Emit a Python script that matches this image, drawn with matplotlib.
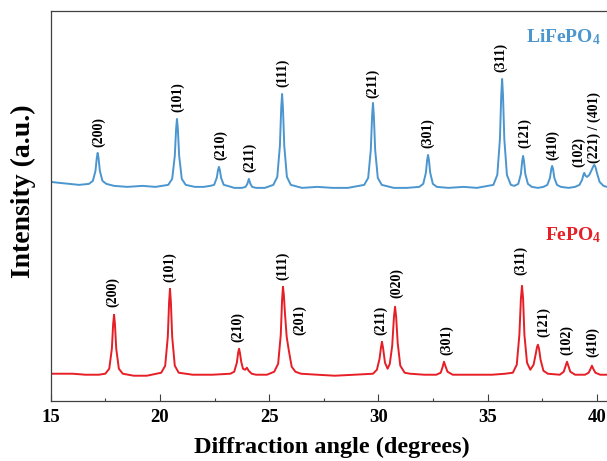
import matplotlib
matplotlib.use('Agg')
import matplotlib.pyplot as plt
from matplotlib.ticker import MultipleLocator

plt.rcParams['font.family'] = ['Liberation Serif', 'DejaVu Serif']
plt.rcParams['font.weight'] = 'bold'
plt.rcParams['mathtext.fontset'] = 'custom'
plt.rcParams['mathtext.rm'] = 'Liberation Serif:bold'
plt.rcParams['mathtext.bf'] = 'Liberation Serif:bold'
plt.rcParams['mathtext.it'] = 'Liberation Serif:bold'

# LiFePO4 pattern (offset upward)
lfp_x = [15.00, 15.40, 15.85, 16.30, 16.75, 16.93, 17.05, 17.11, 17.15, 17.19, 17.25, 17.37, 17.55,
         17.90, 18.50, 19.20, 19.80, 20.38, 20.56, 20.68, 20.74, 20.78, 20.82, 20.88, 21.00, 21.18,
         21.60, 22.00, 22.30, 22.48, 22.60, 22.66, 22.70, 22.74, 22.80, 22.92, 23.10, 23.40, 23.75,
         23.92, 24.00, 24.07, 24.14, 24.22, 24.40, 24.80, 25.19, 25.37, 25.49, 25.55, 25.59, 25.63,
         25.69, 25.81, 25.99, 26.50, 27.20, 27.90, 28.60, 29.35, 29.53, 29.65, 29.71, 29.75, 29.79,
         29.85, 29.97, 30.15, 30.70, 31.30, 31.87, 32.05, 32.17, 32.23, 32.27, 32.31, 32.37, 32.49,
         32.67, 33.20, 33.90, 34.50, 35.26, 35.44, 35.56, 35.62, 35.66, 35.70, 35.76, 35.88, 36.06,
         36.22, 36.40, 36.52, 36.58, 36.62, 36.66, 36.72, 36.84, 37.02, 37.30, 37.55, 37.73, 37.85,
         37.91, 37.95, 37.99, 38.05, 38.17, 38.35, 38.70, 39.00, 39.20, 39.32, 39.38, 39.42, 39.48,
         39.55, 39.65, 39.76, 39.84, 39.88, 39.93, 40.00, 40.12, 40.30, 40.46]
lfp_y = [219, 218, 217, 216, 217, 220, 230, 243, 248, 243, 230, 220, 217,
         215, 214, 215, 214, 216, 222, 245, 272, 282, 272, 245, 222, 216,
         214, 214, 215, 216, 223, 231, 234, 231, 223, 216, 215, 213, 213,
         214, 217, 222, 217, 214, 213, 213, 216, 224, 255, 293, 307, 293,
         255, 224, 216, 213, 214, 213, 213, 216, 223, 251, 285, 298, 285,
         251, 223, 216, 213, 213, 214, 217, 228, 241, 246, 241, 228, 217,
         214, 213, 214, 213, 216, 226, 262, 306, 322, 306, 262, 226, 216,
         215, 217, 227, 240, 245, 240, 227, 217, 214, 213, 214, 216, 223,
         232, 235, 232, 223, 216, 214, 213, 214, 216, 221, 226, 228, 225,
         224, 226, 231, 235, 236, 234, 228, 219, 215, 214]

# FePO4 pattern
fp_x = [15.00, 15.50, 16.00, 16.60, 17.20, 17.50, 17.68, 17.80, 17.86, 17.90, 17.94, 18.00, 18.12,
        18.30, 18.80, 19.40, 20.06, 20.24, 20.36, 20.42, 20.46, 20.50, 20.56, 20.68, 20.86, 21.50,
        22.40, 23.22, 23.40, 23.52, 23.58, 23.62, 23.66, 23.72, 23.80, 23.90, 23.98, 24.06, 24.20,
        24.40, 24.90, 25.23, 25.41, 25.53, 25.59, 25.63, 25.67, 25.72, 25.80, 25.90, 26.03, 26.20,
        26.45, 27.20, 28.00, 28.90, 29.75, 29.93, 30.05, 30.12, 30.16, 30.21, 30.30, 30.42, 30.52,
        30.63, 30.71, 30.76, 30.81, 30.88, 31.00, 31.20, 31.45, 32.10, 32.65, 32.85, 32.94, 33.00,
        33.06, 33.16, 33.40, 34.20, 35.20, 35.80, 36.15, 36.33, 36.45, 36.52, 36.57, 36.62, 36.68,
        36.80, 36.95, 37.10, 37.20, 37.26, 37.30, 37.35, 37.42, 37.55, 37.75, 38.30, 38.48, 38.57,
        38.63, 38.69, 38.78, 39.00, 39.45, 39.62, 39.71, 39.77, 39.83, 39.93, 40.15, 40.46]
fp_y = [27, 27, 27, 26, 26, 27, 32, 52, 77, 86, 77, 52, 32,
        27, 25, 25, 28, 35, 64, 99, 112, 99, 64, 35, 28, 26,
        26, 27, 29, 38, 48, 52, 48, 39, 32, 31, 33, 30, 27,
        26, 26, 29, 37, 66, 101, 114, 106, 88, 64, 50, 34, 29,
        27, 26, 25, 26, 27, 31, 42, 54, 59, 53, 38, 32, 37,
        55, 84, 94, 84, 58, 35, 28, 27, 26, 26, 28, 34, 39,
        35, 29, 26, 26, 26, 27, 28, 36, 66, 102, 115, 102, 66,
        38, 31, 36, 47, 54, 56, 52, 41, 30, 27, 26, 29, 35,
        39, 35, 29, 26, 26, 28, 32, 35, 32, 28, 26, 26]

lfp_hkl = ['(200)', '(101)', '(210)', '(211)', '(111)', '(211)', '(301)', '(311)', '(121)',
           '(410)', '(102)', '(221) / (401)']
lfp_hkl_x = [17.21, 20.83, 22.79, 24.12, 25.63, 29.75, 32.27, 35.61, 36.71, 37.95, 39.14, 39.88]
lfp_hkl_y = [254, 289, 241, 229, 314, 303, 253, 329, 253, 241, 234, 238]

fp_hkl = ['(200)', '(101)', '(210)', '(111)', '(201)', '(211)', '(020)', '(301)', '(311)', '(121)',
          '(102)', '(410)']
fp_hkl_x = [17.85, 20.46, 23.57, 25.63, 26.41, 30.12, 30.81, 33.10, 36.52, 37.57, 38.63, 39.81]
fp_hkl_y = [94, 119, 59, 121, 66, 66, 103, 46, 126, 64, 46, 44]

blue = '#4b96cf'
red = '#e61e26'

fig = plt.figure(figsize=(6.07, 4.61), dpi=100)
ax = fig.add_axes([0.0835, 0.1308, 0.9165, 0.8453])

ax.plot(lfp_x, lfp_y, color=blue, lw=1.4)
ax.plot(fp_x, fp_y, color=red, lw=1.4)

for t, x, y in zip(lfp_hkl, lfp_hkl_x, lfp_hkl_y):
    ax.text(x, y, t, rotation=90, ha='center', va='bottom', fontsize=10, fontweight='bold')
for t, x, y in zip(fp_hkl, fp_hkl_x, fp_hkl_y):
    ax.text(x, y, t, rotation=90, ha='center', va='bottom', fontsize=10, fontweight='bold')

ax.text(40.19, 359, r'LiFePO$_4$', color=blue, fontsize=14, fontweight='bold',
        ha='right', va='baseline')
ax.text(40.19, 161, r'FePO$_4$', color=red, fontsize=14, fontweight='bold',
        ha='right', va='baseline')

ax.set_xlim(15, 40.46)
ax.set_ylim(0, 390)
ax.xaxis.set_major_locator(MultipleLocator(5))
ax.xaxis.set_minor_locator(MultipleLocator(2.5))
ax.tick_params(axis='x', which='major', direction='in', length=5.3, width=0.8,
               labelsize=13.5, pad=6, color='#404040')
ax.tick_params(axis='x', which='minor', direction='in', length=2.2, width=0.8, color='#404040')
ax.set_yticks([])
for lbl in ax.get_xticklabels():
    lbl.set_fontweight('bold')

for s in ['left', 'top', 'bottom']:
    ax.spines[s].set_color('#404040')
    ax.spines[s].set_linewidth(0.9)
ax.spines['right'].set_visible(False)

ax.set_xlabel('Diffraction angle (degrees)', fontsize=17.5, fontweight='bold')
ax.xaxis.set_label_coords(0.506, -0.093)
ax.set_ylabel('Intensity (a.u.)', fontsize=20, fontweight='bold')
ax.yaxis.set_label_coords(-0.026, 0.537)

fig.savefig('out.png', dpi=100)
